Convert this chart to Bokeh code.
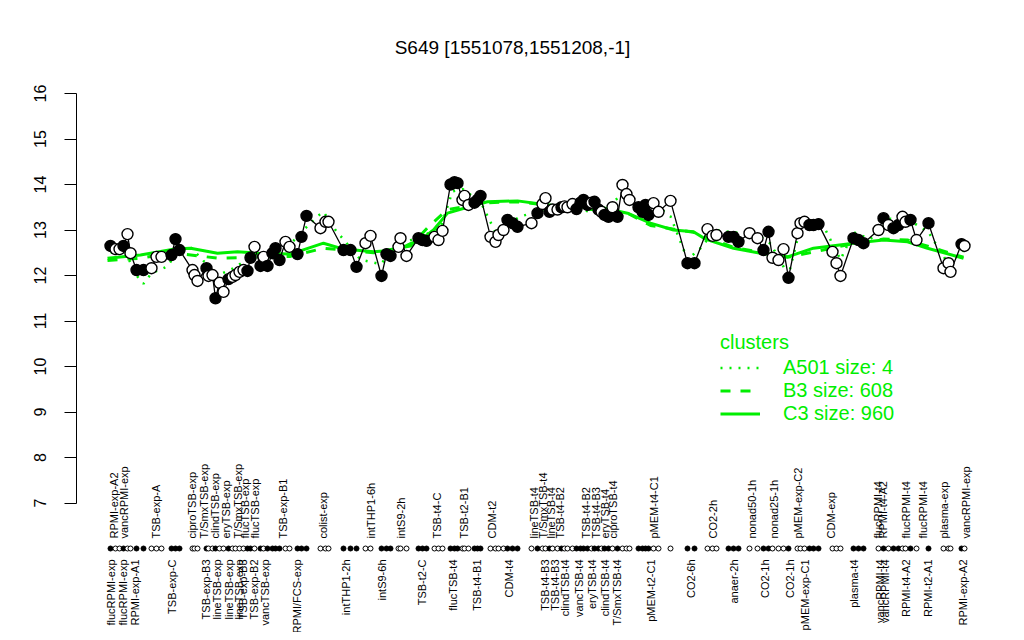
from bokeh.plotting import figure
from bokeh.models import ColumnDataSource, Range1d, FixedTicker, Legend, LegendItem
from bokeh.core.properties import value
from bokeh.embed import file_html
from bokeh.resources import INLINE
import math

TITLE = "S649 [1551078,1551208,-1]"

# sample positions along x, expression values, filled (1) / open (0)
sample_x = [110, 115, 119, 123, 127, 130, 136, 143,
            151, 156, 161,
            171, 175, 179,
            192, 194, 197,
            206, 208, 212, 215, 219, 223, 228, 232, 235, 239, 243, 247, 250, 254,
            260, 263, 267, 272, 275, 279, 285, 289,
            297, 301, 306,
            320, 325, 328,
            343, 350, 356,
            365, 370,
            381, 386, 390,
            398, 400, 406,
            418, 422, 426,
            434, 438, 442,
            450, 454, 457,
            462, 464, 468,
            474, 477, 480,
            490, 495, 498, 503,
            507, 512, 517,
            531,
            537, 542, 545, 549, 552, 557, 561, 564, 567, 572, 576, 580, 583, 587,
            591, 594, 598, 601, 604, 608, 612, 617, 622, 626, 629,
            638, 642, 645, 648, 653, 658,
            670,
            687, 694,
            707, 712, 716,
            728, 733, 738,
            749, 757,
            763, 768, 772, 778, 783, 788,
            797, 800, 804, 809, 813, 818,
            832, 836, 840,
            853, 858, 863,
            878, 883, 888, 893, 898, 902, 905, 910, 916,
            928,
            943, 948, 950,
            961, 964]
sample_y = [12.65, 12.58, 12.58, 12.65, 12.91, 12.49, 12.12, 12.12,
            12.16, 12.41, 12.41,
            12.45, 12.80, 12.56,
            12.12, 12.01, 11.88,
            12.16, 11.99, 12.01, 11.50, 11.84, 11.64, 11.92, 11.97, 12.01, 12.08, 12.12, 12.10, 12.39, 12.63,
            12.21, 12.41, 12.21, 12.49, 12.60, 12.34, 12.74, 12.63,
            12.47, 12.85, 13.31,
            13.04, 13.18, 13.18,
            12.56, 12.56, 12.19,
            12.71, 12.87,
            11.99, 12.47, 12.43,
            12.63, 12.82, 12.43,
            12.82, 12.78, 12.76,
            12.85, 12.78, 12.98,
            14.00, 14.05, 14.03,
            13.66, 13.75, 13.55,
            13.60, 13.66, 13.75,
            12.85, 12.74, 12.89, 13.00,
            13.22, 13.15, 13.07,
            13.15,
            13.37, 13.57, 13.70, 13.40, 13.45, 13.45, 13.50, 13.52, 13.50, 13.57, 13.46, 13.60, 13.66, 13.55,
            13.60, 13.62, 13.45, 13.40, 13.33, 13.29, 13.50, 13.29, 13.99, 13.79, 13.66,
            13.50, 13.40, 13.55, 13.33, 13.59, 13.40,
            13.64,
            12.27, 12.27,
            13.02, 12.87, 12.89,
            12.85, 12.85, 12.74,
            12.93, 12.82,
            12.56, 12.96, 12.39, 12.34, 12.58, 11.95,
            12.93, 13.15, 13.18, 13.11, 13.11, 13.13,
            12.52, 12.27, 11.99,
            12.82, 12.78, 12.71,
            13.00, 13.26, 13.11, 13.04, 13.11, 13.29, 13.18, 13.22, 12.78,
            13.15,
            12.16, 12.27, 12.08,
            12.69, 12.65]
sample_filled = [1, 0, 0, 1, 0, 0, 1, 1,
                 0, 0, 0,
                 1, 1, 1,
                 0, 0, 0,
                 1, 0, 0, 1, 0, 0, 1, 0, 0, 0, 0, 1, 1, 0,
                 1, 0, 1, 1, 1, 1, 0, 0,
                 1, 1, 1,
                 0, 0, 0,
                 1, 1, 1,
                 0, 0,
                 1, 1, 1,
                 0, 0, 0,
                 1, 1, 1,
                 0, 0, 0,
                 1, 1, 1,
                 0, 0, 0,
                 1, 1, 1,
                 0, 0, 0, 0,
                 1, 1, 1,
                 0,
                 1, 0, 0, 1, 0, 0, 1, 0, 0, 0, 1, 1, 1, 1,
                 0, 1, 1, 0, 1, 1, 0, 1, 0, 0, 0,
                 1, 1, 1, 1, 0, 0,
                 0,
                 1, 1,
                 0, 0, 0,
                 1, 1, 1,
                 0, 0,
                 1, 1, 0, 0, 0, 1,
                 0, 0, 0, 1, 1, 1,
                 0, 0, 0,
                 1, 1, 1,
                 0, 1, 0, 1, 1, 0, 0, 1, 0,
                 1,
                 0, 0, 0,
                 1, 0]

# cluster profiles
c3_x = [107, 140, 173, 190, 217, 237, 257, 290, 323, 343, 373, 397, 410, 420, 433, 447, 467,
        487, 517, 540, 567, 600, 627, 650, 673, 693, 705, 733, 760, 787, 813, 853, 883, 907,
        927, 963]
c3_y = [12.38, 12.45, 12.58, 12.60, 12.49, 12.52, 12.49, 12.47, 12.71, 12.58, 12.52, 12.56,
        12.70, 12.78, 13.00, 13.37, 13.50, 13.62, 13.64, 13.57, 13.50, 13.50, 13.37, 13.15,
        13.00, 12.96, 12.80, 12.60, 12.49, 12.41, 12.60, 12.71, 12.78, 12.74, 12.60, 12.38]
b3_x = [107, 140, 173, 217, 257, 290, 323, 373, 410, 427, 447, 487, 517, 567, 627, 650, 693,
        733, 787, 853, 883, 907, 963]
b3_y = [12.33, 12.38, 12.50, 12.38, 12.40, 12.42, 12.60, 12.50, 12.65, 13.05, 13.45, 13.60,
        13.62, 13.50, 13.37, 13.10, 12.95, 12.62, 12.40, 12.70, 12.80, 12.78, 12.40]
a501_x = [110, 123, 136, 143, 151, 167, 176, 190, 217, 232, 254, 280, 303, 317, 323, 335, 360,
          380, 400, 420, 440, 452, 462, 480, 495, 520, 545, 570, 600, 622, 640, 658, 670, 687,
          700, 715, 733, 757, 770, 788, 797, 810, 825, 840, 853, 870, 890, 910, 928, 948, 963]
a501_y = [12.50, 12.60, 12.00, 11.82, 12.05, 12.20, 12.50, 12.62, 12.00, 12.15, 12.45, 12.45,
          13.00, 13.30, 13.40, 13.00, 12.35, 12.25, 12.70, 12.85, 13.05, 13.85, 13.90, 13.62,
          12.95, 13.30, 13.45, 13.50, 13.35, 13.80, 13.55, 13.50, 13.30, 12.35, 12.60, 13.00,
          12.95, 12.90, 12.70, 12.00, 12.80, 13.20, 13.00, 12.35, 12.95, 12.80, 13.25, 13.20,
          12.95, 12.25, 12.55]

cluster_names = ["A501 size: 4", "B3 size: 608", "C3 size: 960"]

top_label_x = [113, 123, 155, 191, 203, 214, 225, 237, 244, 254, 282, 322, 370, 400, 436, 463,
               491, 533, 542, 550, 559, 585, 595, 604, 612, 653, 712, 751, 773, 797, 830, 877,
               882, 905, 922, 943, 965]
top_labels = ["RPMI-exp-A2", "vancRPMI-exp", "TSB-exp-A", "ciproTSB-exp", "T/SmxTSB-exp",
              "clindTSB-exp", "eryTSB-exp", "T/SmxTSB-exp", "flucTSB-exp", "flucTSB-exp",
              "TSB-exp-B1", "colist-exp", "intTHP1-6h", "intS9-2h", "TSB-t4-C", "TSB-t2-B1",
              "CDM-t2", "lineTSB-t4", "T/SmxTSB-t4", "lineTSB-t4", "TSB-t4-B2", "TSB-t4-B2",
              "TSB-t4-B3", "eryTSB-t4", "ciproTSB-t4", "pMEM-t4-C1", "CO2-2h", "nonad50-1h",
              "nonad25-1h", "pMEM-exp-C2", "CDM-exp", "flucRPMI-t4", "RPMI-t4-A2",
              "flucRPMI-t4", "flucRPMI-t4", "plasma-exp", "vancRPMI-exp"]
bottom_label_x = [110, 122, 134, 171, 205, 216, 228, 238, 242, 253, 264, 296, 345, 381, 421,
                  452, 476, 508, 544, 554, 564, 578, 591, 604, 616, 650, 690, 733, 764, 789,
                  804, 853, 879, 884, 905, 927, 962]
bottom_labels = ["flucRPMI-exp", "flucRPMI-exp", "RPMI-exp-A1", "TSB-exp-C", "TSB-exp-B3",
                 "lineTSB-exp", "lineTSB-exp", "lineTSB-exp", "TSB-exp-B3", "TSB-exp-B2",
                 "vancTSB-exp", "RPMI/FCS-exp", "intTHP1-2h", "intS9-6h", "TSB-t2-C",
                 "flucTSB-t4", "TSB-t4-B1", "CDM-t4", "TSB-t4-B3", "TSB-t4-B3", "clindTSB-t4",
                 "vancTSB-t4", "eryTSB-t4", "clindTSB-t4", "T/SmxTSB-t4", "pMEM-t2-C1",
                 "CO2-6h", "anaer-2h", "CO2-1h", "CO2-1h", "pMEM-exp-C1", "plasma-t4",
                 "vancRPMI-t4", "vancRPMI-t4", "RPMI-t4-A2", "RPMI-t2-A1", "RPMI-exp-A2"]

y_ticks = [7, 8, 9, 10, 11, 12, 13, 14, 15, 16]

FONT = "Liberation Sans"
GREEN = "#00ee00"

# layout constants (screen placement of rug and label rows, in y data units)
PX_PER_UNIT = 45.5
FIG_H = 632
Y_TOP = 16 + 93 / PX_PER_UNIT
Y_BOT = 7 - (FIG_H - 502.5) / PX_PER_UNIT
RUG_Y = 7 - 45.5 / PX_PER_UNIT
TOP_LAB_Y = 7 - 35.5 / PX_PER_UNIT
BOT_LAB_Y = 7 - 56.5 / PX_PER_UNIT
TITLE_Y = 16 + 46 / PX_PER_UNIT

p = figure(width=1008, height=FIG_H, output_backend="svg", toolbar_location=None,
           x_range=Range1d(76, 1008), y_range=Range1d(Y_BOT, Y_TOP),
           x_axis_location=None, min_border_left=76, min_border_right=0,
           min_border_top=0, min_border_bottom=0)
p.title.visible = False
p.outline_line_color = None
p.xgrid.visible = False
p.ygrid.visible = False
p.background_fill_color = "white"
p.border_fill_color = "white"

ax = p.yaxis[0]
ax.bounds = (7, 16)
ax.ticker = FixedTicker(ticks=y_ticks)
ax.minor_tick_line_color = None
ax.major_tick_in = 0
ax.major_tick_out = 12
ax.major_label_orientation = "vertical"
ax.major_label_text_font = FONT
ax.major_label_text_font_size = "16px"
ax.major_label_text_color = "black"
ax.major_label_standoff = 19
ax.axis_line_color = "black"
ax.major_tick_line_color = "black"

# cluster lines
r_a = p.line(a501_x, a501_y, line_color=GREEN, line_width=2.5, line_dash="2 7")
r_b = p.line(b3_x, b3_y, line_color=GREEN, line_width=3, line_dash="10 10")
r_c = p.line(c3_x, c3_y, line_color=GREEN, line_width=3)

# sample profile
src = ColumnDataSource(dict(
    x=sample_x, y=sample_y,
    fill=["black" if f else "white" for f in sample_filled],
    rug=[RUG_Y] * len(sample_x)))
p.line("x", "y", source=src, line_color="black", line_width=1.3)
p.scatter("x", "y", source=src, size=11, fill_color="fill", line_color="black", line_width=1.4)
p.scatter("x", "rug", source=src, size=5, fill_color="fill", line_color="black", line_width=1)

# sample labels
p.text(top_label_x, [TOP_LAB_Y] * len(top_labels), text=top_labels, angle=math.pi / 2,
       text_align="left", text_baseline="middle", text_font=value(FONT),
       text_font_size="11px", text_color="black")
p.text(bottom_label_x, [BOT_LAB_Y] * len(bottom_labels), text=bottom_labels, angle=math.pi / 2,
       text_align="right", text_baseline="middle", text_font=value(FONT),
       text_font_size="11px", text_color="black")

# title
p.text([512], [TITLE_Y], text=[TITLE], text_align="center", text_baseline="middle",
       text_font=value(FONT), text_font_size="19px", text_color="black")

legend = Legend(items=[LegendItem(label=cluster_names[0], renderers=[r_a]),
                       LegendItem(label=cluster_names[1], renderers=[r_b]),
                       LegendItem(label=cluster_names[2], renderers=[r_c])],
                location=(644, FIG_H - 425), title="clusters",
                title_text_color=GREEN, title_text_font=FONT, title_text_font_size="20px",
                title_text_font_style="normal",
                label_text_color=GREEN, label_text_font=FONT, label_text_font_size="20px",
                border_line_color=None, background_fill_alpha=0,
                glyph_width=40, label_standoff=23, padding=0, spacing=0, margin=0,
                label_height=23, glyph_height=23, title_standoff=2)
p.add_layout(legend)

open("out.html", "w").write(file_html(p, INLINE))
